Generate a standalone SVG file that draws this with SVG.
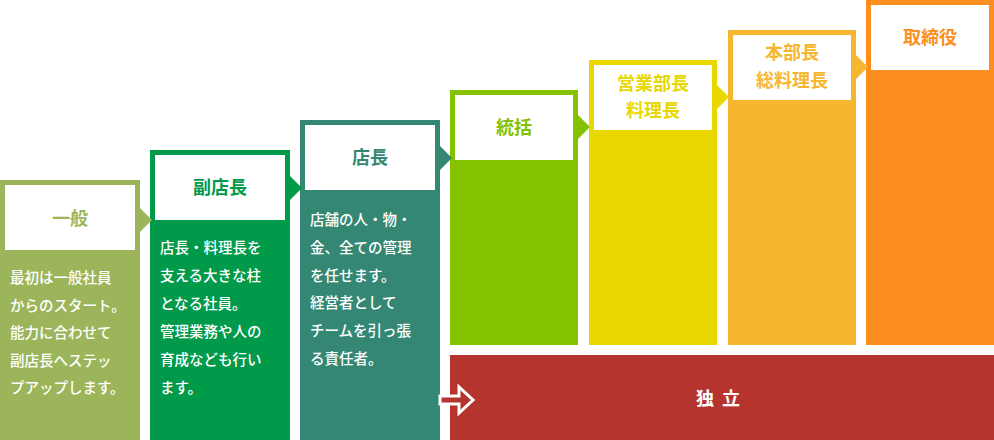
<svg xmlns="http://www.w3.org/2000/svg" width="994" height="440" viewBox="0 0 994 440">
<style>
.w{fill:#fff}
.t{font-family:"Noto Sans CJK JP","Noto Sans",sans-serif;font-weight:700;font-size:18px;text-anchor:middle}
.b{font-family:"Noto Sans CJK JP","Noto Sans",sans-serif;font-weight:500;font-size:14.5px;fill:#fff}
</style>
<rect width="994" height="440" fill="#fff"/>
<g id="n1"><rect x="0" y="180" width="140" height="260" fill="#9db55a"/><rect class="w" x="5" y="185" width="130" height="65"/>
<text class="t" x="70" y="225" fill="#9db55a">一般</text>
<text class="b" x="10" y="283">最初は一般社員</text><text class="b" x="10" y="311">からのスタート。</text><text class="b" x="10" y="338">能力に合わせて</text><text class="b" x="10" y="366">副店長へステッ</text><text class="b" x="10" y="393">プアップします。</text></g>
<g id="n2"><rect x="150" y="150" width="140" height="290" fill="#009a4a"/><rect class="w" x="155" y="155" width="130" height="65"/>
<text class="t" x="220" y="194" fill="#009a4a">副店長</text>
<text class="b" x="160" y="253">店長・料理長を</text><text class="b" x="160" y="281">支える大きな柱</text><text class="b" x="160" y="309">となる社員。</text><text class="b" x="160" y="337">管理業務や人の</text><text class="b" x="160" y="365">育成なども行い</text><text class="b" x="160" y="393">ます。</text></g>
<g id="n3"><rect x="300" y="120" width="140" height="320" fill="#348873"/><rect class="w" x="305" y="125" width="130" height="65"/>
<text class="t" x="370" y="164" fill="#348873">店長</text>
<text class="b" x="310" y="225">店舗の人・物・</text><text class="b" x="310" y="253">金、全ての管理</text><text class="b" x="310" y="281">を任せます。</text><text class="b" x="310" y="308">経営者として</text><text class="b" x="310" y="336">チームを引っ張</text><text class="b" x="310" y="364">る責任者。</text></g>
<g id="n4"><rect x="450" y="90" width="128" height="255" fill="#84c200"/><rect class="w" x="455" y="95" width="118" height="65"/>
<text class="t" x="514" y="134" fill="#84c200">統括</text></g>
<g id="n5"><rect x="589" y="60" width="128" height="285" fill="#e8d800"/><rect class="w" x="594" y="65" width="118" height="65"/>
<text class="t" x="653" y="90" fill="#e8d800">営業部長</text><text class="t" x="653" y="117" fill="#e8d800">料理長</text></g>
<g id="n6"><rect x="728" y="30" width="128" height="315" fill="#f6b62f"/><rect class="w" x="733" y="35" width="118" height="65"/>
<text class="t" x="792" y="59" fill="#f6b62f">本部長</text><text class="t" x="792" y="87" fill="#f6b62f">総料理長</text></g>
<g id="n7"><rect x="866" y="0" width="128" height="345" fill="#fc8f20"/><rect class="w" x="871" y="5" width="118" height="65"/>
<text class="t" x="930" y="44" fill="#fc8f20">取締役</text></g>
<g id="n8"><rect x="450" y="355" width="544" height="85" fill="#b5352e"/>
<text class="t" x="722" y="405" fill="#fff" letter-spacing="8">独立</text></g>
<g id="connectors">
<polygon points="140,208 152,220 140,232" fill="#9db55a"/>
<polygon points="290,176 302,188 290,200" fill="#009a4a"/>
<polygon points="440,146 452,158 440,170" fill="#348873"/>
<polygon points="578,115 590,127 578,139" fill="#84c200"/>
<polygon points="717,85 729,97 717,109" fill="#e8d800"/>
<polygon points="856,55 868,67 856,79" fill="#f6b62f"/>
<polygon points="440,396 459,396 459,387 473,400 459,413 459,404 440,404" fill="#b5352e" stroke="#fff" stroke-width="3"/>
</g>
</svg>
